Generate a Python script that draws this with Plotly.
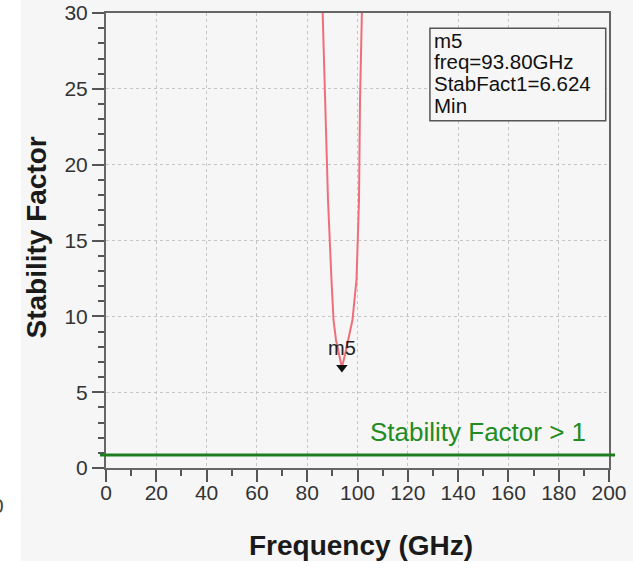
import plotly.graph_objects as go

# ---- data ----
freq_ghz = [85.8, 86.16, 87.36, 88.27, 89.66, 90.46, 91.45, 92.64, 93.80,
            95.0, 96.3, 98.0, 99.6, 100.6, 101.0, 101.67, 102.0]
stab_fact = [32.0, 30.0, 24.26, 17.67, 12.40, 9.76, 8.44, 7.45, 6.624,
             7.45, 8.44, 9.76, 12.40, 17.67, 24.26, 30.0, 32.0]

marker_freq = 93.80
marker_value = 6.624
marker_name = "m5"
readout_lines = ["m5", "freq=93.80GHz", "StabFact1=6.624", "Min"]

threshold_value = 0.85   # hand-drawn green line
threshold_label = "Stability Factor > 1"

x_range = [0, 200]
y_range = [0, 30]
x_ticks = [0, 20, 40, 60, 80, 100, 120, 140, 160, 180, 200]
y_ticks = [0, 5, 10, 15, 20, 25, 30]

BG = "#f6f6f6"
FONT = "Liberation Sans, Arial, sans-serif"

fig = go.Figure()

fig.add_trace(go.Scatter(
    x=freq_ghz, y=stab_fact, mode="lines",
    line=dict(color="#ef6f78", width=2),
    hoverinfo="skip", showlegend=False,
))

fig.add_trace(go.Scatter(
    x=[marker_freq], y=[marker_value], mode="markers",
    marker=dict(symbol="triangle-down", size=10, color="#111111"),
    hoverinfo="skip", showlegend=False,
))

annotations = []
# marker label
annotations.append(dict(x=marker_freq, y=marker_value, xref="x", yref="y",
                        text=marker_name, showarrow=False, yshift=20,
                        font=dict(family=FONT, size=20, color="#222222")))
# readout box lines
line_y = [28.22, 26.83, 25.38, 23.93]
for txt, yy in zip(readout_lines, line_y):
    annotations.append(dict(x=129.6, y=yy, xref="x", yref="y", text=txt,
                            showarrow=False, xanchor="left", yanchor="middle",
                            font=dict(family=FONT, size=20.5, color="#111111")))
# green label
annotations.append(dict(x=191.6, y=2.35, xref="x", yref="y", text=threshold_label,
                        showarrow=False, xanchor="right", yanchor="middle",
                        font=dict(family=FONT, size=26, color="#228b22")))
# axis titles
annotations.append(dict(x=(361 - 106) / 503, y=(468 - 545) / 455, xref="paper", yref="paper",
                        text="<b>Frequency (GHz)</b>", showarrow=False,
                        xanchor="center", yanchor="middle",
                        font=dict(family=FONT, size=28, color="#1a1a1a")))
annotations.append(dict(x=(36 - 106) / 503, y=(468 - 237.5) / 455, xref="paper", yref="paper",
                        text="<b>Stability Factor</b>", showarrow=False, textangle=-90,
                        xanchor="center", yanchor="middle",
                        font=dict(family=FONT, size=28, color="#1a1a1a")))
# fragment of neighbouring figure at far left
annotations.append(dict(x=(6 - 106) / 503, y=(468 - 506) / 455, xref="paper", yref="paper",
                        text="0", showarrow=False, xanchor="right", yanchor="middle",
                        font=dict(family=FONT, size=21, color="#444444")))

shapes = [
    # grey panel background
    dict(type="rect", xref="paper", yref="paper",
         x0=(21 - 106) / 503, x1=(640 - 106) / 503,
         y0=(468 - 561) / 455, y1=(468 + 5) / 455,
         fillcolor=BG, line=dict(width=0), layer="below"),
    # readout box
    dict(type="rect", xref="x", yref="y", x0=128.8, x1=198.7, y0=22.9, y1=29.0,
         fillcolor=BG, line=dict(color="#555555", width=1.5), layer="above"),
    # green threshold line
    dict(type="line", xref="paper", yref="y", x0=-0.012, x1=1.012,
         y0=threshold_value, y1=threshold_value,
         line=dict(color="#1e7d1e", width=3), layer="above"),
]

axis_common = dict(
    automargin=False,
    showgrid=True, gridcolor="#c6c6c6", gridwidth=1, griddash="dot",
    zeroline=False, showline=True, linecolor="#666666", linewidth=2, mirror=True,
    ticks="outside", ticklen=12, tickwidth=1.5, tickcolor="#555555",
    tickfont=dict(family=FONT, size=21, color="#333333"),
)

fig.update_xaxes(range=x_range, tickvals=x_ticks, ticklabelstandoff=-7, **axis_common,
                 minor=dict(dtick=10, ticks="outside", ticklen=6, tickwidth=1.5,
                            tickcolor="#555555", showgrid=False))
fig.update_yaxes(range=y_range, tickvals=y_ticks, **axis_common,
                 minor=dict(dtick=1, ticks="outside", ticklen=6, tickwidth=1.5,
                            tickcolor="#555555", showgrid=False))

fig.update_layout(
    width=633, height=571,
    margin=dict(l=106, r=24, t=13, b=103),
    paper_bgcolor="white", plot_bgcolor=BG,
    annotations=annotations, shapes=shapes,
    showlegend=False,
)

fig.write_html("out.html",
               config={"displayModeBar": False},
               post_script="document.body.style.margin='0px';"
                           "document.body.style.overflow='hidden';")
